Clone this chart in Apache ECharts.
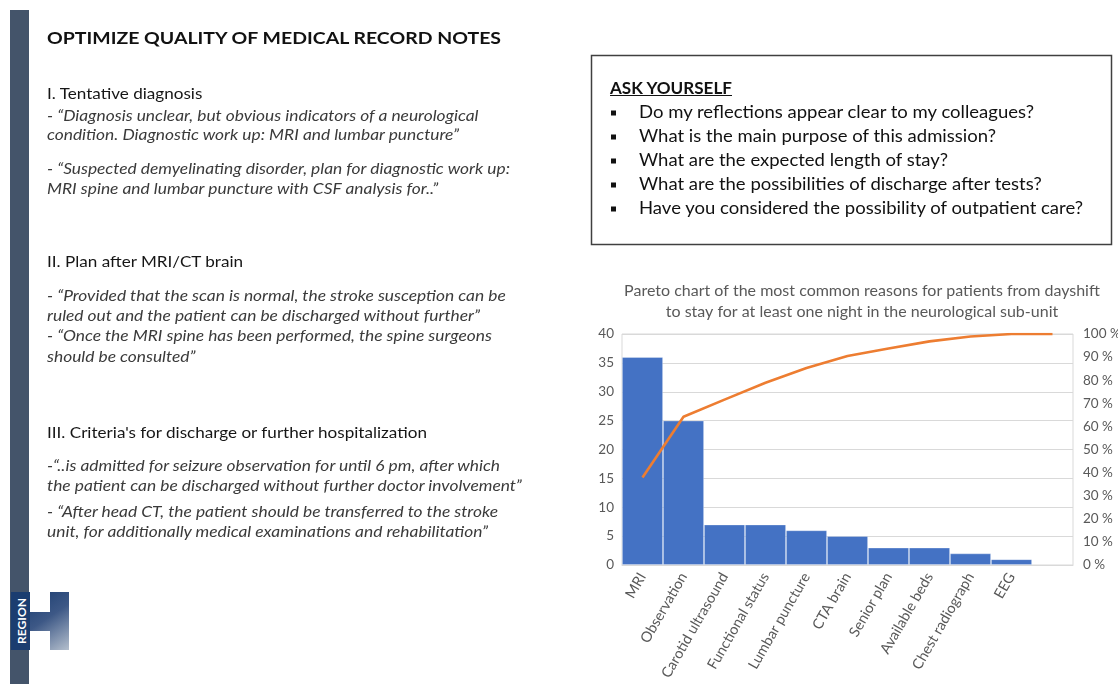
<!DOCTYPE html>
<html>
<head>
<meta charset="utf-8">
<script src="https://cdn.jsdelivr.net/npm/echarts@6.0.0/dist/echarts.min.js"></script>
<style>
  html, body { margin: 0; padding: 0; background: #ffffff; }
  body { width: 1118px; height: 684px; position: relative; overflow: hidden; }
  #chart { position: absolute; left: 0; top: 0; width: 1118px; height: 684px; z-index: 1; }
  #deco { position: absolute; left: 0; top: 0; z-index: 2; pointer-events: none; }
  .t { position: absolute; white-space: nowrap; line-height: 1.2; font-family: Lato, "Open Sans", sans-serif; z-index: 3; transform-origin: 0 0; }
  .bold { font-weight: bold; }
  .ital { font-style: italic; color: #3a3a3a; }
  .head { color: #161616; }
  .blk { color: #111111; }
</style>
</head>
<body>
<div id="chart"></div>

<svg id="deco" width="1118" height="684" xmlns="http://www.w3.org/2000/svg">
  <defs>
    <linearGradient id="hg" gradientUnits="userSpaceOnUse" x1="30" y1="592" x2="69" y2="650">
      <stop offset="0" stop-color="#1b3d70"/>
      <stop offset="0.45" stop-color="#3d5886"/>
      <stop offset="1" stop-color="#b4bfcd"/>
    </linearGradient>
  </defs>
  <rect x="10" y="10" width="19" height="674" fill="#44546A"/>
  <path d="M29,612 H50 V592 H69 V650 H50 V631 H29 Z" fill="url(#hg)"/>
  <rect x="11" y="592" width="19" height="58" fill="#1b3d70"/>
  <text x="21" y="621" fill="#ffffff" font-family="Lato, 'DejaVu Sans', sans-serif" font-weight="bold" font-size="11"
        text-anchor="middle" dominant-baseline="central" transform="rotate(-90 21 621)" textLength="46" lengthAdjust="spacingAndGlyphs">REGION</text>
  <rect x="591.5" y="55.5" width="520" height="189" fill="none" stroke="#404040" stroke-width="1.5"/>
  <rect x="611" y="110.5" width="5" height="5" fill="#111"/>
  <rect x="611" y="134.5" width="5" height="5" fill="#111"/>
  <rect x="611" y="158.5" width="5" height="5" fill="#111"/>
  <rect x="611" y="182.5" width="5" height="5" fill="#111"/>
  <rect x="611" y="206.5" width="5" height="5" fill="#111"/>
</svg>

<!-- slide text -->
<div class="t bold blk" data-g="title" data-x="47" data-b="44.3" data-w="454" data-fs="17.5">OPTIMIZE QUALITY OF MEDICAL RECORD NOTES</div>

<div class="t head" data-g="head" data-x="47" data-b="99">I. Tentative diagnosis</div>
<div class="t ital" data-g="quote" data-x="47" data-b="120.5">- “Diagnosis unclear, but obvious indicators of a neurological</div>
<div class="t ital" data-g="quote" data-x="47" data-b="140.2">condition. Diagnostic work up: MRI and lumbar puncture”</div>
<div class="t ital" data-g="quote" data-x="47" data-b="173.5" data-w="463" data-fs="15.2">- “Suspected demyelinating disorder, plan for diagnostic work up:</div>
<div class="t ital" data-g="quote" data-x="47" data-b="193.5">MRI spine and lumbar puncture with CSF analysis for..”</div>

<div class="t head" data-g="head" data-x="47" data-b="266.7">II. Plan after MRI/CT brain</div>
<div class="t ital" data-g="quote" data-x="47" data-b="300.8">- “Provided that the scan is normal, the stroke susception can be</div>
<div class="t ital" data-g="quote" data-x="47" data-b="320.5">ruled out and the patient can be discharged without further”</div>
<div class="t ital" data-g="quote" data-x="47" data-b="340.5">- “Once the MRI spine has been performed, the spine surgeons</div>
<div class="t ital" data-g="quote" data-x="47" data-b="361.5">should be consulted”</div>

<div class="t head" data-g="head" data-x="47" data-b="438" data-w="380" data-fs="15.8">III. Criteria's for discharge or further hospitalization</div>
<div class="t ital" data-g="quote" data-x="47" data-b="470.5">-“..is admitted for seizure observation for until 6 pm, after which</div>
<div class="t ital" data-g="quote" data-x="47" data-b="490.5">the patient can be discharged without further doctor involvement”</div>
<div class="t ital" data-g="quote" data-x="47" data-b="517">- “After head CT, the patient should be transferred to the stroke</div>
<div class="t ital" data-g="quote" data-x="47" data-b="537">unit, for additionally medical examinations and rehabilitation”</div>

<div class="t bold blk" data-g="ask" data-x="610" data-b="93.5" data-w="122" data-fs="16.4" style="text-decoration:underline;">ASK YOURSELF</div>
<div class="t blk" data-g="bul" data-x="639" data-b="118">Do my reflections appear clear to my colleagues?</div>
<div class="t blk" data-g="bul" data-x="639" data-b="142">What is the main purpose of this admission?</div>
<div class="t blk" data-g="bul" data-x="639" data-b="166">What are the expected length of stay?</div>
<div class="t blk" data-g="bul" data-x="639" data-b="190">What are the possibilities of discharge after tests?</div>
<div class="t blk" data-g="bul" data-x="639" data-b="214" data-w="444" data-fs="16.8">Have you considered the possibility of outpatient care?</div>

<script>
// ---------------- chart data ----------------
const categories = ['MRI', 'Observation', 'Carotid ultrasound', 'Functional status', 'Lumbar puncture',
                    'CTA brain', 'Senior plan', 'Available beds', 'Chest radiograph', 'EEG', ''];
const counts = [36, 25, 7, 7, 6, 5, 3, 3, 2, 1, null];
const cumulativePct = [37.9, 64.2, 71.6, 78.9, 85.3, 90.5, 93.7, 96.8, 98.9, 100, 100];
const countTicks = [0, 5, 10, 15, 20, 25, 30, 35, 40];
const pctTicks = [0, 10, 20, 30, 40, 50, 60, 70, 80, 90, 100];
const chartTitle = ['Pareto chart of the most common reasons for patients from dayshift',
                    'to stay for at least one night in the neurological sub-unit'];

// ---------------- fit slide text (height like the original, width fitted by scaleX) ----------------
(function fitText() {
  const els = Array.from(document.querySelectorAll('.t'));
  const groups = {};
  els.forEach(el => { (groups[el.dataset.g] = groups[el.dataset.g] || []).push(el); });
  Object.keys(groups).forEach(g => {
    const list = groups[g];
    const ref = list.find(e => e.dataset.w) || list[0];
    const fs = parseFloat(ref.dataset.fs || '16');
    list.forEach(el => { el.style.fontSize = fs + 'px'; el.style.left = el.dataset.x + 'px'; el.style.top = '0px'; });
    const refW = ref.getBoundingClientRect().width;
    const sx = parseFloat(ref.dataset.w) / refW;
    list.forEach(el => {
      const strut = document.createElement('span');
      strut.style.cssText = 'display:inline-block;width:0;height:0;vertical-align:baseline;';
      el.appendChild(strut);
      const baseOff = strut.offsetTop;
      el.style.top = (parseFloat(el.dataset.b) - baseOff) + 'px';
      el.style.transform = 'scaleX(' + sx + ')';
    });
  });
})();

// ---------------- chart ----------------
const chart = echarts.init(document.getElementById('chart'), null, { renderer: 'canvas' });
const labelColor = '#595959';
const gridColor = '#d9d9d9';
const fontFamily = 'Lato, "Open Sans", sans-serif';

chart.setOption({
  animation: false,
  backgroundColor: 'transparent',
  title: {
    text: chartTitle.join('\n'),
    left: 857,
    top: 276,
    textAlign: 'center',
    textStyle: { fontFamily: fontFamily, fontSize: 16, fontWeight: 'normal', color: labelColor, lineHeight: 20.5 }
  },
  grid: {
    left: 622, right: 45, top: 334, bottom: 119,
    show: true, borderColor: gridColor, borderWidth: 1,
    containLabel: false, outerBoundsMode: 'none'
  },
  xAxis: {
    type: 'category',
    data: categories,
    axisTick: { show: false },
    axisLine: { show: true, lineStyle: { color: gridColor, width: 1 } },
    axisLabel: { interval: 0, rotate: 60, margin: 9, color: labelColor, fontSize: 14.5, fontFamily: fontFamily }
  },
  yAxis: [
    {
      type: 'value',
      min: countTicks[0], max: countTicks[countTicks.length - 1], interval: countTicks[1] - countTicks[0],
      axisLine: { show: false }, axisTick: { show: false },
      splitLine: { show: true, lineStyle: { color: gridColor, width: 1 } },
      axisLabel: { margin: 8, color: labelColor, fontSize: 13.5, fontFamily: fontFamily }
    },
    {
      type: 'value', position: 'right',
      min: pctTicks[0], max: pctTicks[pctTicks.length - 1], interval: pctTicks[1] - pctTicks[0],
      axisLine: { show: false }, axisTick: { show: false },
      splitLine: { show: false },
      axisLabel: { margin: 10, color: labelColor, fontSize: 13.5, fontFamily: fontFamily, formatter: '{value} %' }
    }
  ],
  series: [
    {
      type: 'bar',
      data: counts,
      barCategoryGap: '0%',
      itemStyle: { color: '#4472C4', borderColor: 'rgba(255,255,255,0.35)', borderWidth: 0.8 },
      z: 2
    },
    {
      type: 'line',
      yAxisIndex: 1,
      data: cumulativePct,
      showSymbol: false,
      symbol: 'none',
      lineStyle: { color: '#ED7D31', width: 2.6 },
      z: 3
    }
  ]
});
</script>
</body>
</html>
